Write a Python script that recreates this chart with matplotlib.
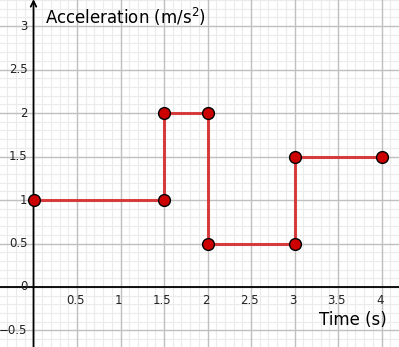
import matplotlib.pyplot as plt
import numpy as np

# acceleration vs time (step graph)
t = [0, 1.5, 1.5, 2, 2, 3, 3, 4]
acc = [1, 1, 2, 2, 0.5, 0.5, 1.5, 1.5]

xticks = [0.5, 1, 1.5, 2, 2.5, 3, 3.5, 4]
yticks = [-0.5, 0, 0.5, 1, 1.5, 2, 2.5, 3]

fig = plt.figure(figsize=(3.99, 3.47), dpi=100)
ax = fig.add_axes([0, 0, 1, 1])
ax.set_xlim(-0.385, 4.2)
ax.set_ylim(-0.69, 3.3)
ax.axis('off')

# grid
for v in np.arange(-0.3, 4.21, 0.1):
    ax.axvline(v, color='#ebebeb', lw=0.8, zorder=0)
for v in np.arange(-0.6, 3.31, 0.1):
    ax.axhline(v, color='#ebebeb', lw=0.8, zorder=0)
for v in np.arange(0.5, 4.21, 0.5):
    ax.axvline(v, color='#c0c0c0', lw=1, zorder=1)
for v in np.arange(-0.5, 3.31, 0.5):
    ax.axhline(v, color='#c0c0c0', lw=1, zorder=1)

# axes, arrow on y
ax.axhline(0, color='black', lw=1.3, zorder=2)
ax.annotate('', xy=(0, 3.31), xytext=(0, -0.7), annotation_clip=False,
            arrowprops=dict(arrowstyle='->', color='black', lw=1.3,
                            shrinkA=0, shrinkB=0), zorder=2)

for x in xticks:
    ax.text(x - 0.02, -0.08, f'{x:g}', ha='center', va='top', fontsize=8.5, color='#222222')
for y in yticks:
    lab = f'{y:g}'.replace('-', '\u2212')
    ax.text(-0.07, y, lab, ha='right', va='center', fontsize=8.5, color='#222222')

ax.plot(t, acc, color='#d62020', lw=2.2, alpha=0.85, zorder=3)
ax.plot(t, acc, 'o', color='#cc0000', mec='black', mew=1, ms=8.5, zorder=4)

ax.text(3.67, -0.38, 'Time (s)', fontsize=12, ha='center', va='center')
ax.text(0.13, 3.1, 'Acceleration (m/s$^2$)', fontsize=12, ha='left', va='center')

fig.savefig('out.png', dpi=100)
